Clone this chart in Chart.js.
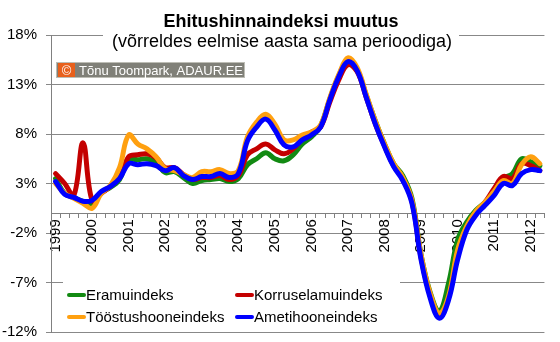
<!DOCTYPE html>
<html>
<head>
<meta charset="utf-8">
<script src="https://cdn.jsdelivr.net/npm/chart.js@4.4.1/dist/chart.umd.min.js"></script>
<style>
  body { margin: 0; background: #fff; }
  #wrap { width: 560px; height: 342px; position: relative; }
</style>
</head>
<body>
<div id="wrap"><canvas id="chartIndeks"></canvas></div>
<script>
var kvartalid = [
  "1999 Q1","1999 Q2","1999 Q3","1999 Q4","2000 Q1","2000 Q2","2000 Q3","2000 Q4",
  "2001 Q1","2001 Q2","2001 Q3","2001 Q4","2002 Q1","2002 Q2","2002 Q3","2002 Q4",
  "2003 Q1","2003 Q2","2003 Q3","2003 Q4","2004 Q1","2004 Q2","2004 Q3","2004 Q4",
  "2005 Q1","2005 Q2","2005 Q3","2005 Q4","2006 Q1","2006 Q2","2006 Q3","2006 Q4",
  "2007 Q1","2007 Q2","2007 Q3","2007 Q4","2008 Q1","2008 Q2","2008 Q3","2008 Q4",
  "2009 Q1","2009 Q2","2009 Q3","2009 Q4","2010 Q1","2010 Q2","2010 Q3","2010 Q4",
  "2011 Q1","2011 Q2","2011 Q3","2011 Q4","2012 Q1","2012 Q2"
];

var eramu = [3.5,2.0,1.6,1.2,1.0,2.1,2.6,3.4, 5.4,5.4,5.5,5.1,4.1,4.2,3.6,3.0,
  3.3,3.4,3.5,3.2,3.5,4.9,5.5,6.1, 5.5,5.3,5.9,7.0,7.7,8.8,11.5,13.9,
  15.4,14.5,11.9,9.3,7.0,5.0,3.8,1.5, -4.2,-8.0,-9.9,-7.1,-2.7,-0.9,0.3,1.1,
  2.3,3.5,4.0,5.5,5.2,4.8];
var korruselamu = [4.0,3.0,1.8,7.1,1.3,2.0,2.7,3.6, 5.7,5.9,6.0,5.6,4.6,4.6,3.9,3.4,
  3.6,3.6,3.8,3.4,3.8,5.9,6.5,7.0, 6.4,6.0,6.5,7.5,8.2,8.7,11.2,13.5,
  15.0,14.3,11.7,9.0,6.8,4.8,3.5,1.2, -4.5,-8.3,-10.3,-8.5,-4.0,-1.4,0.0,1.1,
  2.5,3.7,3.5,5.0,4.8,4.3];
var toostushoone = [3.0,2.0,1.5,1.0,0.5,2.0,2.8,4.6, 7.9,7.0,6.5,5.7,4.5,4.3,3.9,3.6,
  4.2,4.2,4.4,4.0,4.3,7.7,9.2,10.0, 9.0,7.4,7.4,7.9,8.2,8.9,11.6,14.0,
  15.7,14.7,12.0,9.3,7.0,5.0,3.6,1.3, -4.2,-8.1,-10.1,-8.4,-3.7,-1.3,0.2,1.1,
  2.2,3.3,3.0,4.9,5.7,5.0];
var ametihoone = [3.2,1.9,1.6,1.2,1.3,2.2,2.7,3.5, 5.0,4.9,5.0,4.8,4.3,4.6,3.8,3.4,
  3.7,3.7,4.0,3.6,4.0,7.3,8.7,9.5, 8.4,6.9,6.7,7.4,7.9,8.7,11.4,13.8,
  15.3,14.4,11.7,9.0,6.7,4.7,3.3,1.0, -4.7,-8.6,-10.6,-8.8,-4.7,-1.7,-0.2,0.8,
  1.8,3.0,2.8,4.0,4.4,4.3];

var seeriad = ["Eramuindeks","Korruselamuindeks","Tööstushooneindeks","Ametihooneindeks"];
var varvid = ["#128a12","#c40000","#ffa010","#0000ff"];

var pealkiri = "Ehitushinnaindeksi muutus";
var alapealkiri = "(võrreldes eelmise aasta sama perioodiga)";
var autor = "Tõnu Toompark, ADAUR.EE";

var fam = "'Liberation Sans', Arial, sans-serif";
Chart.defaults.font.family = fam;
Chart.defaults.color = "#000";

var tekstid = {
  id: "tekstid",
  beforeDatasetsDraw: function (chart) {
    var ctx = chart.ctx;
    ctx.save();
    // valged taustad pealkirja ja legendi all
    ctx.fillStyle = "#fff";
    ctx.fillRect(103, 0, 356, 52);
    ctx.fillRect(63, 272, 337, 57);

    ctx.fillStyle = "#000";
    ctx.textAlign = "center";
    ctx.textBaseline = "alphabetic";
    ctx.font = "bold 18px " + fam;
    ctx.fillText(pealkiri, 281, 27);
    ctx.font = "18px " + fam;
    ctx.fillText(alapealkiri, 282, 47);

    // autori silt
    ctx.fillStyle = "#bdbdb5";
    ctx.fillRect(56, 62, 189, 16);
    ctx.fillStyle = "#808078";
    ctx.fillRect(57, 63, 187, 14);
    ctx.fillStyle = "#e8601c";
    ctx.fillRect(58, 63, 17, 14);
    ctx.fillStyle = "#fff";
    ctx.font = "13px " + fam;
    ctx.fillText("©", 66.5, 75);
    ctx.textAlign = "left";
    ctx.fillText(autor, 79, 75);

    // legend
    chart.data.datasets.forEach(function (ds, i) {
      var x = (i % 2) ? 235 : 67;
      var y = (i < 2) ? 295 : 317;
      ctx.strokeStyle = ds.borderColor;
      ctx.lineWidth = 4;
      ctx.lineCap = "round";
      ctx.beginPath();
      ctx.moveTo(x + 2, y);
      ctx.lineTo(x + 17, y);
      ctx.stroke();
      ctx.fillStyle = "#000";
      ctx.textAlign = "left";
      ctx.textBaseline = "middle";
      ctx.font = "15px " + fam;
      ctx.fillText(ds.label, x + 19, y + 1);
    });
    ctx.restore();
  }
};

function plot() {
  var andmed = [eramu, korruselamu, toostushoone, ametihoone];
  var ctxIndeks = document.getElementById("chartIndeks");
  new Chart(ctxIndeks, {
    type: "line",
    data: {
      labels: kvartalid,
      datasets: andmed.map(function (d, i) {
        return {
          label: seeriad[i],
          data: d,
          borderColor: varvid[i],
          backgroundColor: varvid[i],
          borderWidth: 5,
          pointRadius: 0,
          tension: 0.4,
          borderCapStyle: "round",
          borderJoinStyle: "round",
          order: 4 - i
        };
      })
    },
    options: {
      responsive: true,
      maintainAspectRatio: false,
      animation: false,
      layout: { padding: { left: 0, right: 14, top: 35, bottom: 10 } },
      plugins: { legend: { display: false }, title: { display: false }, tooltip: { enabled: false } },
      scales: {
        x: {
          type: "category",
          position: { y: 0 },
          offset: true,
          grid: { drawOnChartArea: false, drawTicks: true, tickLength: 4, offset: true, color: "#808080" },
          border: { color: "#808080" },
          ticks: {
            autoSkip: false,
            minRotation: 90,
            maxRotation: 90,
            padding: 2,
            font: { size: 15 },
            callback: function (v, idx) {
              var k = kvartalid[idx];
              return k.slice(5) === "Q1" ? k.slice(0, 4) : "";
            }
          }
        },
        y: {
          min: -12,
          max: 18,
          afterFit: function (s) {
            s.width = 51;
            s.paddingTop = 0;
            s.paddingBottom = 0;
          },
          grid: { color: "#888", tickLength: 5 },
          border: { color: "#808080" },
          ticks: {
            stepSize: 5,
            padding: 9,
            font: { size: 15 },
            callback: function (v) { return v + "%"; }
          }
        }
      }
    },
    plugins: [tekstid]
  });
}

plot();
</script>
</body>
</html>
